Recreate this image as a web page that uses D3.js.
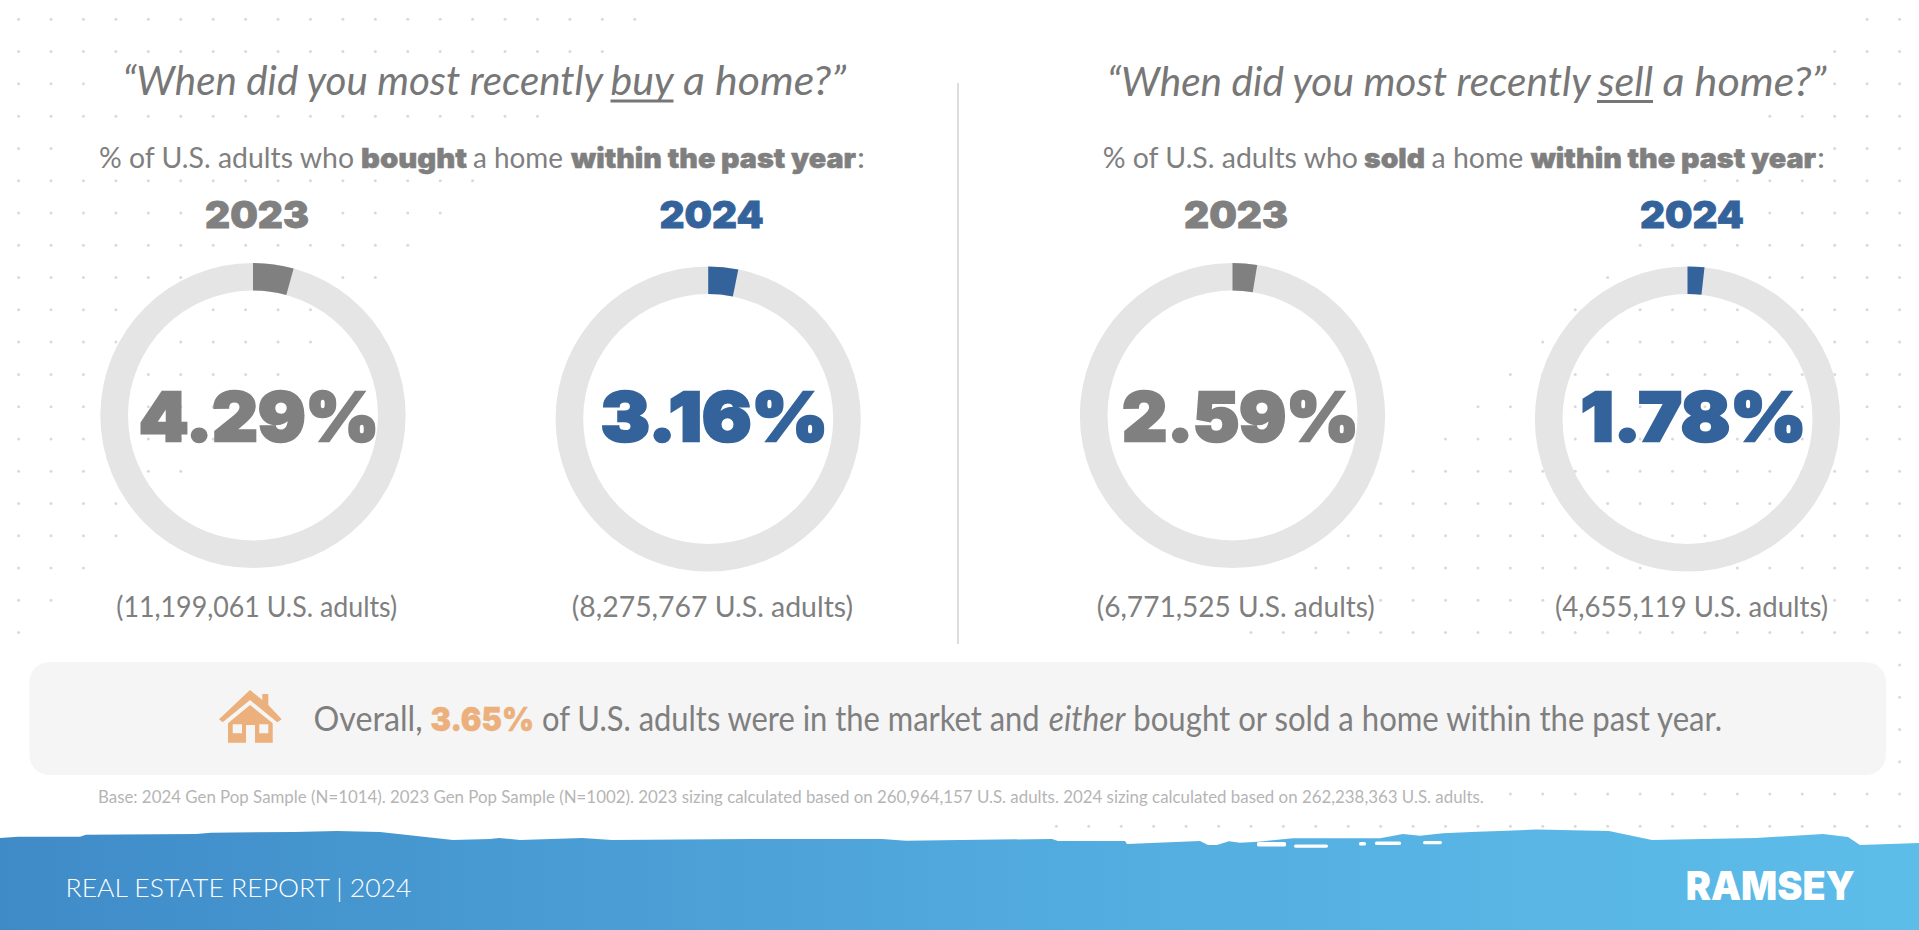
<!DOCTYPE html>
<html><head><meta charset="utf-8">
<script src="https://cdn.jsdelivr.net/npm/d3@7"></script>
<style>
html,body{margin:0;padding:0;background:#fff;overflow:hidden}
svg{display:block}
text{font-family:Lato,sans-serif;white-space:pre}
</style></head><body>
<svg id="c" width="1919" height="930"></svg>
<script>
// ---- data ----
const years = ["2023","2024","2023","2024"];
const percents = [4.29,3.16,2.59,1.78];
const adults = ["11,199,061","8,275,767","6,771,525","4,655,119"];
const questionVerbs = ["buy","sell"];
const actions = ["bought","sold"];
const overall = 3.65;
const footnote = "Base: 2024 Gen Pop Sample (N=1014). 2023 Gen Pop Sample (N=1002). 2023 sizing calculated based on 260,964,157 U.S. adults. 2024 sizing calculated based on 262,238,363 U.S. adults.";
// ---- layout ----
const ringCx=[253,708.2,1232.5,1687.5], ringCy=[415.5,419,415.5,419];
const rOuter=152.6,rInner=125;
const numX=[[139,379],[600.8,828],[1122.3,1358.7],[1580.8,1806.3]];
const adultX=[[116.3,397.3],[571.7,853.3],[1096.7,1375],[1555,1828.3]];
const yearX=[[205,309],[659.5,763.6],[1184,1288],[1640,1744]];
const titleSeg=[[[122.5,603],[610.5,673.6],[683,846]],[[1107,1590.7],[1598,1653],[1662.4,1826.5]]];
const subSeg=[[[99,354],[361,467],[473,563],[571,856],[857,865]],[[1102.7,1358],[1364,1425],[1431.5,1523.4],[1530.7,1816],[1817,1825]]];
const overallSeg=[[313.5,422.5],[430.5,534],[542,1039.6],[1048.8,1125.3],[1133.3,1722]];
const yearColors=["#808080","#34639b","#808080","#34639b"];
const INK="#777777",MID="#7f7f7f",ORANGE="#ebb07c",HEAVY="Inter";

const svg=d3.select("#c");
const defs=svg.append("defs");
const grad=defs.append("linearGradient").attr("id","band");
grad.append("stop").attr("offset",0).attr("stop-color","#3f8bc8");
grad.append("stop").attr("offset",0.6).attr("stop-color","#54aee0");
grad.append("stop").attr("offset",1).attr("stop-color","#5dbde9");

// background dots (two corner triangles), skipping text zones
const dotMasks=[[100,60,760,50],[70,130,810,42],[195,195,125,42],[1085,60,735,50],[1085,130,745,42],[1640,195,115,42],[1098,590,278,36],[1550,590,280,36],[20,655,1870,125],[0,780,1500,30]];
const dotStepX=32.43,dotStepY=32.28;
const dots=[];
d3.range(0,27).forEach(k=>d3.range(0,59).forEach(i=>{
  if(i<=19-k||i>=57-k){
    const x=18.6+i*dotStepX,y=19.3+k*dotStepY;
    if(!dotMasks.some(m=>x>m[0]&&x<m[0]+m[2]&&y>m[1]&&y<m[1]+m[3])) dots.push([x,y]);
  }
}));
svg.append("g").selectAll("circle").data(dots).join("circle")
  .attr("cx",d=>d[0]).attr("cy",d=>d[1]).attr("r",1.5).attr("fill","#dadada");

// divider
svg.append("line").attr("x1",958).attr("x2",958).attr("y1",83).attr("y2",644).attr("stroke","#dddddd").attr("stroke-width",2);

// single-run text stretched to span x0..x1
function fit(sel,x0,x1,y){
  const w=sel.node().getComputedTextLength();
  return sel.attr("transform",`translate(${x0},${y}) scale(${(x1-x0)/w},1)`);
}
// one text element with runs placed to span their own extents
function rich(parts,segs,y,size,fill){
  const t=svg.append("text").attr("y",y).attr("font-size",size).attr("fill",fill);
  parts.forEach((p,i)=>{
    const s=t.append("tspan").text(p.t).attr("x",segs[i][0])
      .attr("textLength",segs[i][1]-segs[i][0]).attr("lengthAdjust","spacingAndGlyphs");
    if(p.heavy) s.attr("font-weight",900).style("font-family",HEAVY).attr("font-size",size*(p.k||0.95));
    if(p.i) s.attr("font-style","italic");
    if(p.f) s.attr("fill",p.f);
    if(p.sw) s.attr("stroke",p.f||fill).attr("stroke-width",p.sw);
  });
  return t;
}

// titles and subtitles
[0,1].forEach(j=>{
  rich([{t:"“When did you most recently",i:1},{t:questionVerbs[j],i:1},{t:"a home?”",i:1}],titleSeg[j],j?96:95,40,INK);
  rich([{t:"% of U.S. adults who"},{t:actions[j],heavy:1,sw:.5},{t:"a home"},{t:"within the past year",heavy:1,sw:.5},{t:":"}],subSeg[j],167.7,29,MID);
});
// underlines of the key verbs
svg.append("rect").attr("x",610.5).attr("y",99.5).attr("width",63).attr("height",3).attr("fill",INK);
svg.append("rect").attr("x",1597).attr("y",100).attr("width",56).attr("height",3).attr("fill",INK);

// donuts
const angle=d3.scaleLinear().domain([0,100]).range([0,2*Math.PI]);
const arc=d3.arc().innerRadius(rInner).outerRadius(rOuter);
const rings=svg.append("g").selectAll("g").data(percents).join("g")
  .attr("transform",(d,i)=>`translate(${ringCx[i]},${ringCy[i]})`);
rings.append("path").attr("fill","#e5e5e5").attr("d",arc({startAngle:angle(0),endAngle:angle(100)}));
rings.append("path").attr("fill",(d,i)=>yearColors[i]).attr("d",d=>arc({startAngle:angle(0),endAngle:angle(d)}));

percents.forEach((p,i)=>{
  const y=svg.append("text").text(years[i]).style("font-family",HEAVY).attr("font-size",37).attr("font-weight",900).attr("fill",yearColors[i]).attr("stroke",yearColors[i]).attr("stroke-width",.8);
  fit(y,yearX[i][0],yearX[i][1],228);
  const n=svg.append("text").text(d3.format(".2f")(p)+"%").style("font-family",HEAVY).attr("font-size",67).attr("font-weight",900).attr("fill",yearColors[i]).attr("stroke",yearColors[i]).attr("stroke-width",2.6);
  fit(n,numX[i][0],numX[i][1],440.5);
  const a=svg.append("text").text(`(${adults[i]} U.S. adults)`).attr("font-size",29).attr("fill",MID);
  fit(a,adultX[i][0],adultX[i][1],617.3);
});

// callout
svg.append("rect").attr("x",29.4).attr("y",662).attr("width",1856.6).attr("height",113).attr("rx",20).attr("fill","#f5f5f5");
const house=svg.append("g").attr("fill",ORANGE);
house.append("path").attr("d","M250 690 L262.3 700 V694 H268.3 V705 L281.7 719.3 L277.3 722.3 L250 700 L222.7 722.3 L219 719.3 Z");
house.append("path").attr("fill-rule","evenodd").attr("d","M250 705 L272.7 723.3 V742.7 H255 V725 H246 V742.7 H228 V723.3 Z M232.7 724.3 V733.3 H242 V724.3 Z M259.3 724.3 V733.3 H268.3 V724.3 Z");
rich([{t:"Overall,"},{t:d3.format(".2f")(overall)+"%",heavy:1,f:ORANGE,sw:.5},{t:"of U.S. adults were in the market and"},{t:"either",i:1},{t:"bought or sold a home within the past year."}],overallSeg,730.7,34,MID);
const f=svg.append("text").text(footnote).attr("font-size",16.5).attr("fill","#b5b5b5");
fit(f,98,1485,803);

// torn-edge footer band
const waveTop=[[0,838],[18,836.7],[80,836.7],[86,834.7],[196,834],[211,832.7],[294,832],[337,831],[380,832],[453,840],[490,839],[499,838],[520,840],[582,838],[612,840],[753,839],[882,839],[906,840.7],[960,840],[1052,839],[1058,841],[1125,841],[1127,844],[1200,841],[1208,845],[1217,845],[1229,841.3],[1240,842.7],[1258,841.7],[1268,840.7],[1293,838.3],[1380,838.3],[1403,834],[1420,835.7],[1443,833.3],[1477,831.7],[1500,831],[1536,829.5],[1609,831],[1652,840],[1756,838],[1823,834],[1848,837],[1860,845],[1919,843],[1919,930],[0,930]];
svg.append("path").attr("fill","url(#band)").attr("d",d3.line()(waveTop)+"Z");
const flecks=[[1257,842,29,4.5],[1294,844.5,34,3.2],[1359,842,7,3.5],[1375,841.5,26,3.5],[1423,841,19,3.2]];
svg.append("g").selectAll("rect").data(flecks).join("rect").attr("x",d=>d[0]).attr("y",d=>d[1]).attr("width",d=>d[2]).attr("height",d=>d[3]).attr("rx",1.6).attr("fill","#fff");
const rep=svg.append("text").text("REAL ESTATE REPORT | 2024").attr("font-size",25).attr("font-weight",300).attr("fill","#fff");
fit(rep,65.5,411.5,897);
const ram=svg.append("text").text("RAMSEY").style("font-family",HEAVY).attr("font-size",40).attr("font-weight",900).attr("fill","#fff");
fit(ram,1685.7,1855,900);
</script>
</body></html>
